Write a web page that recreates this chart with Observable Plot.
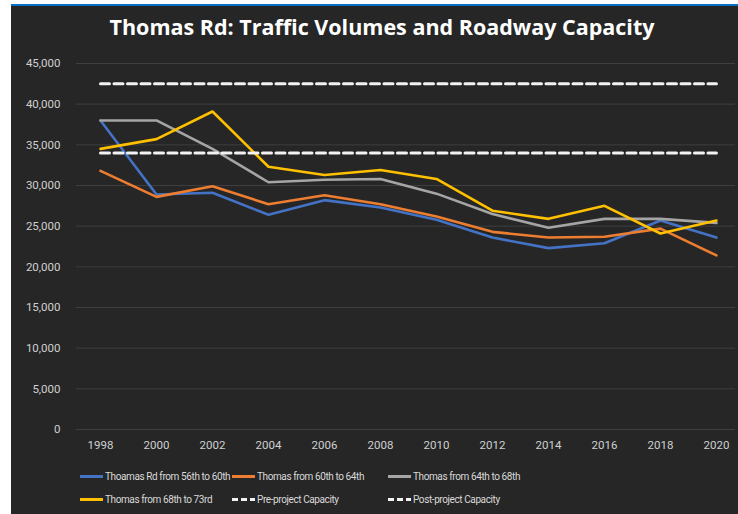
<!DOCTYPE html>
<html>
<head>
<meta charset="utf-8">
<script src="https://cdn.jsdelivr.net/npm/d3@7"></script>
<script src="https://cdn.jsdelivr.net/npm/@observablehq/plot@0.6"></script>
<style>
  html, body { margin: 0; padding: 0; background: #ffffff; width: 738px; height: 514px; overflow: hidden; }
  #panel { position: absolute; left: 11px; top: 4px; width: 727px; height: 508px; background: #262626; border-top: 2px solid #0a6fc2; }
  #title { position: absolute; left: 11px; top: 13px; width: 742px; text-align: center; color: #ffffff;
           font-family: "Open Sans", sans-serif; font-weight: 700; font-size: 21.5px; line-height: 28px; }
  #chart { position: absolute; left: 11px; top: 45px; }
  .lg { position: absolute; display: flex; align-items: center; color: #d9d9d9;
        font-family: Roboto, sans-serif; font-size: 10px; letter-spacing: -0.4px; white-space: nowrap; }
  .sw { width: 23px; height: 3px; margin-right: 2px; }
</style>
</head>
<body>
<div id="panel"></div>
<div id="title">Thomas Rd: Traffic Volumes and Roadway Capacity</div>
<div id="chart"></div>
<div id="legend"></div>
<script>
const years = [1998, 2000, 2002, 2004, 2006, 2008, 2010, 2012, 2014, 2016, 2018, 2020];
const seg56to60 = [38000, 28900, 29100, 26400, 28200, 27300, 25800, 23600, 22300, 22900, 25700, 23600];
const seg60to64 = [31800, 28600, 29900, 27700, 28800, 27700, 26200, 24300, 23600, 23700, 24700, 21400];
const seg64to68 = [38000, 38000, 34500, 30400, 30700, 30800, 29000, 26500, 24800, 25900, 25900, 25400];
const seg68to73 = [34500, 35700, 39100, 32300, 31300, 31900, 30800, 26900, 25900, 27500, 24100, 25700];
const preCapacity = 42500;
const postCapacity = 34000;
const seriesNames = ["Thoamas Rd from 56th to 60th", "Thomas from 60th to 64th", "Thomas from 64th to 68th", "Thomas from 68th to 73rd", "Pre-project Capacity", "Post-project Capacity"];
const seriesColors = ["#4472c4", "#ed7d31", "#a5a5a5", "#ffc000", "#f2f2f2", "#f2f2f2"];
const yTicks = [0, 5000, 10000, 15000, 20000, 25000, 30000, 35000, 40000, 45000];

const volumeSeries = [seg56to60, seg60to64, seg64to68, seg68to73];
const rows = [];
volumeSeries.forEach((vals, i) => years.forEach((yr, j) => rows.push({series: seriesNames[i], year: yr, value: vals[j]})));
const capRows = [];
[preCapacity, postCapacity].forEach((v, i) => years.forEach(yr => capRows.push({series: seriesNames[4 + i], year: yr, value: v})));

const marks = [
  Plot.ruleY(yTicks, {stroke: "#3e3e3e", strokeWidth: 1}),
  Plot.axisY({ticks: yTicks, tickFormat: d3.format(","), tickSize: 0, tickPadding: 16, fill: "#d0d0d0", label: null}),
  Plot.axisX({ticks: years, tickFormat: "d", tickSize: 0, tickPadding: 11, fill: "#d0d0d0", label: null})
];
seriesNames.slice(0, 4).forEach(name => {
  marks.push(Plot.line(rows.filter(d => d.series === name), {x: "year", y: "value", stroke: "series", strokeWidth: 2.6, strokeLinejoin: "round"}));
});
seriesNames.slice(4).forEach(name => {
  marks.push(Plot.line(capRows.filter(d => d.series === name), {x: "year", y: "value", stroke: "series", strokeWidth: 3, strokeDasharray: "9,4.5"}));
});

const chart = Plot.plot({
  width: 727,
  height: 410,
  marginLeft: 65,
  marginRight: 3,
  marginTop: 18,
  marginBottom: 26,
  style: {background: "transparent", color: "#d0d0d0", fontFamily: "Roboto, sans-serif", fontSize: "11.5px"},
  x: {type: "linear", domain: [1997.143, 2020.68], axis: null, label: null},
  y: {domain: [0, 45000], axis: null, label: null},
  color: {domain: seriesNames, range: seriesColors},
  marks
});
document.getElementById("chart").appendChild(chart);

// legend
const legendPos = [[80, 476], [232, 476], [388, 476], [80, 499], [232, 499], [388, 499]];
const lg = document.getElementById("legend");
seriesNames.forEach((name, i) => {
  const item = document.createElement("div");
  item.className = "lg";
  item.style.left = legendPos[i][0] + "px";
  item.style.top = (legendPos[i][1] - 8) + "px";
  item.style.height = "16px";
  const sw = document.createElement("div");
  sw.className = "sw";
  if (i < 4) {
    sw.style.background = seriesColors[i];
  } else {
    sw.style.background = `repeating-linear-gradient(90deg, ${seriesColors[i]} 0 6px, transparent 6px 9px)`;
  }
  item.appendChild(sw);
  const t = document.createElement("span");
  t.textContent = name;
  item.appendChild(t);
  lg.appendChild(item);
});
</script>
</body>
</html>
